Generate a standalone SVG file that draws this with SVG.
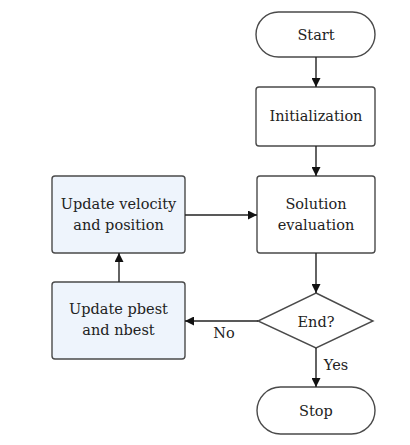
<svg xmlns="http://www.w3.org/2000/svg" width="410" height="445" viewBox="0 0 410 445">
<defs>
<style>
.n{fill:#fff;stroke:#4a4a4a;stroke-width:1.4}
.b{fill:#eef4fc;stroke:#4a4a4a;stroke-width:1.4}
.t{font-family:'DejaVu Serif',serif;font-size:14.5px;fill:#222;text-anchor:middle}
.c{fill:none;stroke:#222;stroke-width:1.4}
</style>
<marker id="a" viewBox="0 0 10 10" refX="10" refY="5" markerWidth="9" markerHeight="9" markerUnits="userSpaceOnUse" orient="auto"><path d="M0,0 L10,5 L0,10 z" fill="#111"/></marker>
</defs>
<rect width="410" height="445" fill="#fff"/>
<g id="start"><rect class="n" x="256" y="12" width="119" height="45" rx="22.5"/><text class="t" x="316" y="40">Start</text></g>
<g id="init"><rect class="n" x="256" y="87" width="119" height="59" rx="3"/><text class="t" x="316" y="121">Initialization</text></g>
<g id="eval"><rect class="n" x="257" y="176" width="118" height="77" rx="3"/><text class="t" x="316" y="209">Solution</text><text class="t" x="316" y="230">evaluation</text></g>
<g id="velocity"><rect class="b" x="52" y="176" width="133" height="77" rx="3"/><text class="t" x="118.5" y="209">Update velocity</text><text class="t" x="118.5" y="230">and position</text></g>
<g id="pbest"><rect class="b" x="52" y="282" width="133" height="77" rx="3"/><text class="t" x="118.5" y="314">Update pbest</text><text class="t" x="118.5" y="335">and nbest</text></g>
<g id="end"><polygon class="n" points="316,293 373,321 316,348 258,321"/><text class="t" x="316" y="327">End?</text></g>
<g id="stop"><rect class="n" x="257" y="387" width="118" height="47" rx="23.5"/><text class="t" x="316" y="416">Stop</text></g>
<g id="connectors">
<line class="c" x1="316" y1="57" x2="316" y2="87" marker-end="url(#a)"/>
<line class="c" x1="316" y1="146" x2="316" y2="176" marker-end="url(#a)"/>
<line class="c" x1="316" y1="253" x2="316" y2="293" marker-end="url(#a)"/>
<line class="c" x1="316" y1="348" x2="316" y2="387" marker-end="url(#a)"/>
<line class="c" x1="258" y1="321" x2="185" y2="321" marker-end="url(#a)"/>
<line class="c" x1="119" y1="282" x2="119" y2="253" marker-end="url(#a)"/>
<line class="c" x1="185" y1="215" x2="257" y2="215" marker-end="url(#a)"/>
<text class="t" x="224" y="338">No</text>
<text class="t" x="336" y="370">Yes</text>
</g>
</svg>
